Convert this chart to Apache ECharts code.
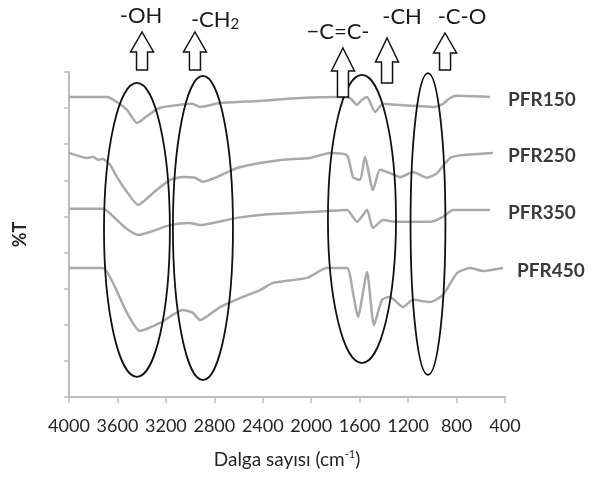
<!DOCTYPE html>
<html><head><meta charset="utf-8">
<script src="https://cdn.jsdelivr.net/npm/echarts@6/dist/echarts.min.js"></script>
<style>html,body{margin:0;padding:0;background:#fff}#c{width:603px;height:479px}</style>
</head><body><div id="c"></div>
<script>
// ---- data (wavenumber in cm-1, transmittance in arbitrary %T units) ----
const xTicks = [4000, 3600, 3200, 2800, 2400, 2000, 1600, 1200, 800, 400];
const seriesNames = ['PFR150', 'PFR250', 'PFR350', 'PFR450'];

const wn150 = [4000,3686,3604,3521,3439,3356,3249,3083,2984,2918,2753,2423,2093,1762,1680,1622,1581,1539,1473,1407,1292,1127,994,912,854,796,524];
const t150  = [83.1,83.1,81.7,79.5,75.9,77.8,80.1,80.9,81.2,80.3,81.4,82.0,82.8,83.1,82.8,80.9,82.3,83.1,78.9,81.2,80.9,80.6,80.3,81.2,82.8,83.4,83.1];

const wn250 = [4000,3851,3802,3761,3719,3661,3604,3521,3430,3306,3166,3059,2960,2894,2778,2613,2423,2233,2010,1845,1705,1655,1597,1556,1490,1432,1350,1267,1160,1044,961,854,747,499];
const t250  = [67.6,66.2,66.5,65.7,65.9,64.3,60.9,56.8,53.2,56.5,60.1,60.9,60.7,59.6,60.9,63.4,64.8,65.7,66.2,67.6,67.0,60.9,60.1,66.5,57.3,62.9,62.0,60.9,62.3,60.7,62.0,66.2,67.0,67.6];

const wn350 = [4000,3719,3604,3521,3430,3331,3166,3001,2918,2811,2613,2423,2010,1705,1622,1539,1490,1407,1292,1184,1019,912,829,524];
const t350  = [52.1,52.1,49.0,46.5,44.9,45.7,47.6,48.2,47.6,48.2,49.6,50.4,51.2,51.8,48.5,51.8,46.8,49.0,48.5,48.5,48.5,49.9,51.8,51.8];

const wn450 = [4000,3719,3637,3521,3414,3249,3059,2976,2918,2753,2588,2423,2316,2035,1870,1705,1655,1614,1539,1482,1416,1350,1242,1160,1019,912,796,689,582,416];
const t450  = [35.7,35.7,31.6,23.3,18.3,20.5,24.1,23.3,21.3,24.9,27.4,29.6,31.6,33.0,35.7,35.7,28.8,22.2,34.6,19.9,26.9,27.7,24.9,26.9,26.3,28.3,34.3,35.7,34.9,35.7];

// annotation groups: ellipse centre / radii in data units, arrow position
const groupLabels = ['-OH', '-CH2', '\u2212C=C-', '-CH', '-C-O'];
const ellipseCx = [3439, 2894, 1581, 1036];
const ellipseCy = [46.3, 46.8, 49.3, 47.9];
const ellipseRx = [272, 248, 281, 144];
const ellipseRy = [40.7, 42.1, 39.9, 41.8];
const arrowWn = [3397, 2960, 1738, 1374, 895];
const labelWn = [3405, 2794, 1779, 1250, 755];

const wnList = [wn150, wn250, wn350, wn450];
const tList = [t150, t250, t350, t450];

const chart = echarts.init(document.getElementById('c'));
const lineColor = '#a9a9a9';
const axisColor = '#bdbdbd';
const textColor = '#262626';

const option = {
  animation: false,
  backgroundColor: '#fff',
  grid: { left: 69, right: 98, top: 72, bottom: 82, outerBoundsMode: 'none', containLabel: false },
  xAxis: {
    type: 'value', inverse: true, min: 400, max: 4000, interval: 400,
    name: '{a|Dalga say\u0131s\u0131 (cm}{s|-1}{a|)}',
    nameLocation: 'middle', nameGap: 52, nameMoveOverlap: false,
    nameTextStyle: {
      rich: {
        a: { fontFamily: 'Lato', fontSize: 19, color: textColor, lineHeight: 22 },
        s: { fontFamily: 'Lato', fontSize: 11, color: textColor, verticalAlign: 'top', lineHeight: 22, padding: [0, 0, 9, 0] }
      }
    },
    axisLine: { show: true, lineStyle: { color: axisColor, width: 2 } },
    axisTick: { show: true, inside: false, length: 6, lineStyle: { color: axisColor, width: 1.5 } },
    axisLabel: { show: true, fontFamily: 'Lato', fontSize: 18, color: textColor, margin: 20,
      formatter: v => xTicks.includes(v) ? String(v) : '' , hideOverlap: false, showMinLabel: true, showMaxLabel: true },
    splitLine: { show: false }
  },
  yAxis: {
    type: 'value', min: 0, max: 90, interval: 10,
    name: '%T', nameLocation: 'middle', nameGap: 40, nameRotate: 90, nameMoveOverlap: false,
    nameTextStyle: { fontFamily: 'Lato', fontSize: 18, fontWeight: 'bold', color: textColor },
    axisLine: { show: true, lineStyle: { color: axisColor, width: 2 } },
    axisTick: { show: true, inside: false, length: 5, lineStyle: { color: axisColor, width: 1.5 } },
    axisLabel: { show: false },
    splitLine: { show: false }
  },
  series: seriesNames.map((name, i) => ({
    name, type: 'line', showSymbol: false, symbol: 'none', smooth: 0.2,
    lineStyle: { color: lineColor, width: 2.5 },
    data: wnList[i].map((w, j) => [w, tList[i][j]]),
    z: 2
  }))
};
chart.setOption(option);

const px = (w, v) => chart.convertToPixel({ gridIndex: 0 }, [w, v]);
const graphics = [];

// ellipses
ellipseCx.forEach((cx, i) => {
  const c = px(cx, ellipseCy[i]);
  const ex = px(cx - ellipseRx[i], ellipseCy[i]);
  const ey = px(cx, ellipseCy[i] + ellipseRy[i]);
  graphics.push({
    type: 'ellipse', z: 50,
    shape: { cx: c[0], cy: c[1], rx: Math.abs(ex[0] - c[0]), ry: Math.abs(ey[1] - c[1]) },
    style: { fill: 'rgba(0,0,0,0)', stroke: '#111', lineWidth: 1.8 }
  });
});

// hollow arrows (tip, head base, bottom in px from top)
const arrowTip = [32, 32, 48, 38, 33];
const arrowHead = [52, 52, 71, 62, 53];
const arrowBottom = [70, 70, 97, 83, 70];
arrowWn.forEach((w, i) => {
  const x = px(w, 0)[0];
  const hw = 11.5, sw = 5.5;
  graphics.push({
    type: 'polygon', z: 60,
    shape: { points: [[x, arrowTip[i]], [x + hw, arrowHead[i]], [x + sw, arrowHead[i]], [x + sw, arrowBottom[i]],
                      [x - sw, arrowBottom[i]], [x - sw, arrowHead[i]], [x - hw, arrowHead[i]]] },
    style: { fill: '#fff', stroke: '#111', lineWidth: 1.5 }
  });
});

// group labels
const labelY = [16, 20, 32, 17, 17];
labelWn.forEach((w, i) => {
  const x = px(w, 0)[0];
  let txt = groupLabels[i];
  let rich;
  if (txt === '-CH2') {
    txt = '{a|-CH}{s|2}';
    rich = { a: { fontFamily: 'Lato', fontSize: 22, fill: '#1a1a1a', lineHeight: 24 },
             s: { fontFamily: 'Lato', fontSize: 15, fill: '#1a1a1a', verticalAlign: 'bottom', lineHeight: 24 } };
  }
  graphics.push({
    type: 'text', z: 70, x, y: labelY[i],
    style: { text: txt, rich, fontFamily: 'Lato', fontSize: 22, fill: '#1a1a1a', align: 'center', verticalAlign: 'middle' }
  });
});

// series names at line ends
const nameGapPx = [18, 15, 18, 14];
seriesNames.forEach((name, i) => {
  const n = wnList[i].length - 1;
  const p = px(wnList[i][n], tList[i][n]);
  graphics.push({
    type: 'text', z: 70, x: p[0] + nameGapPx[i], y: p[1] + 3,
    style: { text: name, fontFamily: 'Lato', fontWeight: 'bold', fontSize: 19, fill: '#3a3a3a', align: 'left', verticalAlign: 'middle' }
  });
});

chart.setOption({ graphic: { elements: graphics } });
</script>
</body></html>
